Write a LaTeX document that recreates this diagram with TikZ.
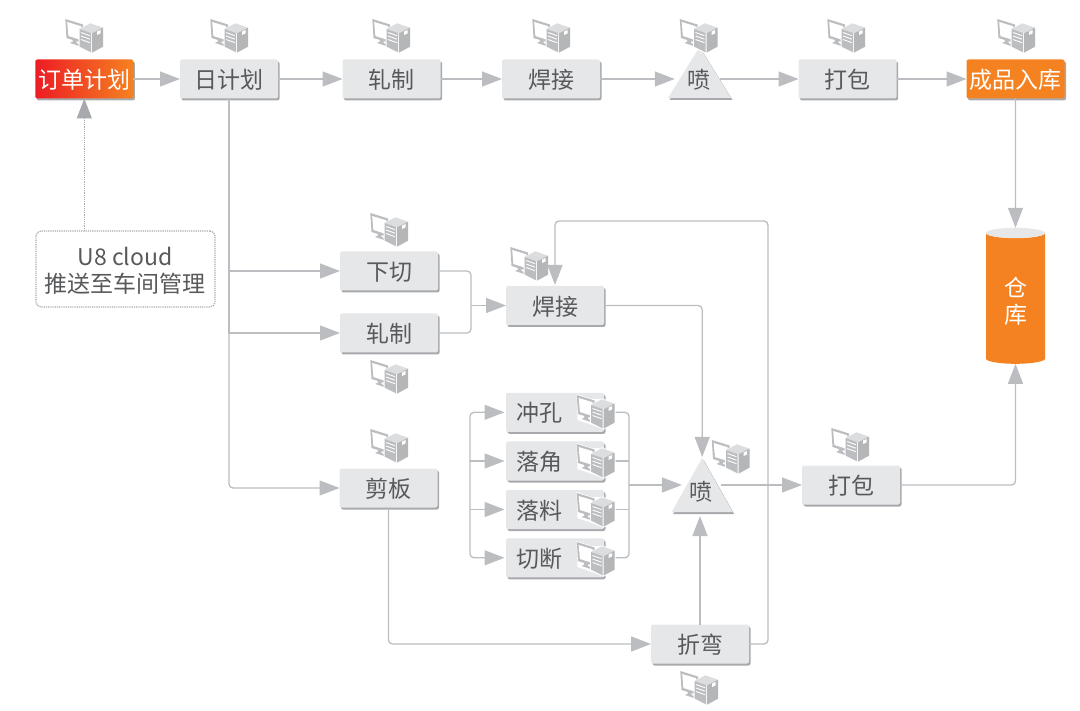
\documentclass[tikz,border=0pt]{standalone}
\usepackage{fontspec}
\setmainfont{Noto Sans CJK SC}
\usetikzlibrary{shapes.geometric, arrows.meta, shadows}

\definecolor{textgray}{HTML}{58595B}
\definecolor{boxgray}{HTML}{E6E7E8}
\definecolor{linegray}{HTML}{BCBDC0}
\definecolor{edgegray}{HTML}{A7A9AC}
\definecolor{iconlight}{HTML}{DCDDDE}
\definecolor{stockorange}{HTML}{F58220}
\definecolor{planred}{HTML}{ED1C24}

\begin{document}
\begin{tikzpicture}[
    x=1pt, y=-1pt,
    every node/.style = {font=\fontsize{23}{27.5}\selectfont, text=textgray, inner sep=0pt, outer sep=0pt},
    edgeshadow/.style = {drop shadow={shadow xshift=1.5pt, shadow yshift=-2pt, fill=edgegray, opacity=1}},
    proc/.style    = {fill=boxgray, rounded corners=2pt, minimum width=98pt, minimum height=39pt,
                      text height=24.4pt, text depth=5pt, edgeshadow},
    procsub/.style = {proc, text width=78pt, inner xsep=10pt, align=left},
    procend/.style = {rounded corners=2pt, minimum width=98pt, minimum height=39pt,
                      text height=24.4pt, text depth=5pt, edgeshadow, text=white},
    spray/.style   = {isosceles triangle, shape border rotate=90, isosceles triangle stretches,
                      anchor=apex, fill=boxgray, edgeshadow},
    flow/.style    = {-{Triangle[length=20pt, width=15pt]}, line width=1.3pt, linegray, rounded corners=4pt},
    link/.style    = {line width=1.3pt, linegray, rounded corners=4pt},
    pcicon/.pic = {
        \fill[white] (-19,-17) -- (-4,-12) -- (6,-12) -- (19,-7) -- (19,12) -- (8,18) -- (-18,9) -- cycle;
        \fill[linegray] (-18.7,-16) -- (-1,-10.5) -- (-1,8) -- (-17.5,3) -- cycle;
        \fill[white] (-16.8,-13) -- (-3,-8.8) -- (-3,5) -- (-15.6,1) -- cycle;
        \fill[linegray] (-12,3) -- (-7.5,4.5) -- (-7.5,8) -- (-4,9.5) -- (-5,11) -- (-14,8) -- (-11,6.5) -- cycle;
        \fill[white] (-5.5,-5.7) -- (6.3,-12.7) -- (20,-7.8) -- (20,12.2) -- (8,18.7) -- (-5.5,12.7) -- cycle;
        \fill[iconlight] (-4.3,-6) -- (6.3,-11.7) -- (19,-7.3) -- (8,-1.7) -- cycle;
        \fill[linegray] (-4.3,-6) -- (7,-2) -- (7,17.3) -- (-4.3,11.7) -- cycle;
        \fill[edgegray!85] (8,-1.7) -- (19,-7.3) -- (19,11.7) -- (8,17.7) -- cycle;
        \draw[white, line width=.9pt] (-3,-2.5) -- (6,.7) (-3,1) -- (6,4.2) (-3,4.5) -- (6,7.7);
        \fill[white] (13,-3.5) -- (16.5,-5) -- (16.5,-1.5) -- (13,0) -- cycle;
    },
]
\useasboundingbox (0.5,1) rectangle (1080.5,712);

% --- Top line ---
\node[procend, left color=planred, right color=stockorange] (order) at (84.8,80) {订单计划};
\node[proc] (dayplan) at (229.5,80) {日计划};
\node[proc] (rollA) at (392,80) {轧制};
\node[proc] (weldA) at (551.5,80) {焊接};
\node[spray, minimum width=63pt, minimum height=51pt] (sprayA) at (700,48) {};
\node (sprayAtxt) at (699,81) {喷};
\node[proc] (packA) at (848,80) {打包};
\node[procend, fill=stockorange] (finished) at (1016,80) {成品入库};

% --- Push note ---
\node[draw=edgegray, densely dotted, line width=1.2pt, fill=white, rounded corners=5pt,
      minimum width=179pt, minimum height=76pt] (note) at (126,270) {};
\node[align=center] (notetxt) at (125.5,272) {U8 cloud\\推送至车间管理};

% --- Warehouse ---
\node[cylinder, shape border rotate=90, aspect=.45, minimum width=59pt, minimum height=136pt,
      cylinder uses custom fill, cylinder body fill=stockorange, cylinder end fill=boxgray,
      align=center] (store) at (1016,299.5) {\phantom{仓}\\\phantom{库}};
\node[text=white, align=center] (storetxt) at (1016,302.5) {仓\\库};

% --- Lower lines ---
\node[proc] (cut) at (389.5,272) {下切};
\node[proc] (rollB) at (389.5,334) {轧制};
\node[proc] (weldB) at (555.5,306.5) {焊接};
\node[proc] (shear) at (389,489) {剪板};
\node[procsub] (punch) at (555.5,413.3) {冲孔};
\node[procsub] (corner) at (555.5,462) {落角};
\node[procsub] (blank) at (555.5,510.5) {落料};
\node[procsub] (sever) at (555.5,558.8) {切断};
\node[spray, minimum width=61pt, minimum height=54pt] (sprayB) at (702.7,459) {};
\node (sprayBtxt) at (701.5,492.5) {喷};
\node[proc] (packB) at (851.5,486) {打包};
\node[proc] (bend) at (700.5,645) {折弯};

% --- Free corners and joints ---
\coordinate (joinweld) at (471.5,306.5);
\coordinate (busleft) at (470.5,462);
\coordinate (busright) at (629.5,486);
\coordinate (backtop) at (768.5,222);

\pic at (529.5,264) {pcicon};

% --- Arrows on top line ---
\draw[flow] (order) -- (dayplan);
\draw[flow] (dayplan) -- (rollA);
\draw[flow] (rollA) -- (weldA);
\draw[flow, shorten >=9pt] (weldA.east) -- (weldA.east -| sprayA.left side);
\draw[flow, shorten <=5pt] (weldA.east -| sprayA.right side) -- (packA.west);
\draw[flow] (packA) -- (finished);
\draw[flow] (finished) -- (store.north);
\draw[-{Triangle[length=20pt, width=15pt]}, edgegray, densely dotted, line width=1.2pt] (note.north -| order.south) -- (order.south);

% --- Arrows from day plan ---
\draw[flow, rounded corners=0pt] (dayplan.south) |- (cut.west);
\draw[flow, rounded corners=0pt] (dayplan.south) |- (rollB.west);
\draw[flow] (dayplan.south) |- (shear.west);

% --- Welding branch ---
\draw[link] (cut.east) -| (joinweld);
\draw[link] (rollB.east) -| (joinweld);
\draw[flow] (joinweld) -- (weldB.west);
\draw[flow, shorten >=1pt] (weldB.east) -| (sprayB.apex);
\draw[flow, shorten >=1pt] (bend.east) -| (backtop) -| (weldB.north);

% --- Sheet branch ---
\draw[flow, shorten >=1.5pt] (busleft) |- (punch.west);
\draw[flow, shorten >=1.5pt] (busleft) -- (corner.west);
\draw[flow, shorten >=1.5pt] (busleft |- blank.west) -- (blank.west);
\draw[flow, shorten >=1.5pt] (busleft) |- (sever.west);
\draw[link] (punch.east) -| (busright);
\draw[link] (corner.east) -- (corner.east -| busright);
\draw[link] (blank.east) -- (blank.east -| busright);
\draw[link] (sever.east) -| (busright);
\draw[flow, shorten >=5pt] (busright) -- (sprayB.left side);
\draw[flow, shorten <=4pt] (sprayB.right side) -- (packB.west);
\draw[flow] (packB.east) -| (store.south);
\draw[flow] (shear.south) |- (bend.west);
\draw[flow, shorten >=4pt] (bend.north) -- (bend.north |- sprayB.south);

% --- Terminal icons ---
\pic at (84.5,36) {pcicon};
\pic at (229.5,36) {pcicon};
\pic at (391.5,36) {pcicon};
\pic at (551.5,36) {pcicon};
\pic at (699,36) {pcicon};
\pic at (846.5,36) {pcicon};
\pic at (1016.5,36) {pcicon};
\pic at (389.5,230) {pcicon};
\pic at (389.5,377) {pcicon};
\pic at (389.5,446) {pcicon};
\pic at (850.5,445) {pcicon};
\pic at (731,457) {pcicon};
\pic at (699.5,688) {pcicon};
\pic at (596,412) {pcicon};
\pic at (596,461) {pcicon};
\pic at (596,510) {pcicon};
\pic at (596,559) {pcicon};

\end{tikzpicture}
\end{document}
